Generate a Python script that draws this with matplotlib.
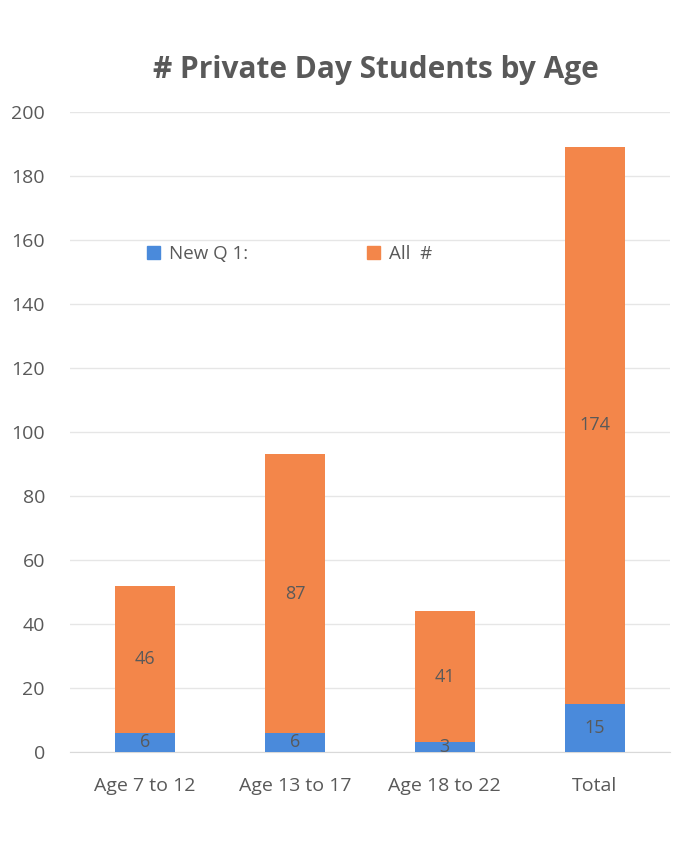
import matplotlib.pyplot as plt
from matplotlib.patches import Patch

categories = ["Age 7 to 12", "Age 13 to 17", "Age 18 to 22", "Total"]
new_q1 = [6, 6, 3, 15]
all_count = [46, 87, 41, 174]
y_ticks = [0, 20, 40, 60, 80, 100, 120, 140, 160, 180, 200]

plt.rcParams["font.family"] = ["Open Sans", "DejaVu Sans"]
txt = "#595959"
blue = "#4A8ADB"
orange = "#F3864A"

fig = plt.figure(figsize=(6.92, 8.46), dpi=100)
ax = fig.add_axes([0.101, 0.111, 0.867, 0.757])

x = range(len(categories))
b1 = ax.bar(x, new_q1, width=0.4, color=blue, zorder=3)
b2 = ax.bar(x, all_count, width=0.4, bottom=new_q1, color=orange, zorder=3)
ax.bar_label(b1, labels=[str(v) for v in new_q1], label_type="center", color=txt, fontsize=13)
ax.bar_label(b2, labels=[str(v) for v in all_count], label_type="center", color=txt, fontsize=13)

ax.set_xlim(-0.5, 3.5)
ax.set_ylim(0, 200)
ax.set_yticks(y_ticks)
ax.set_xticks(list(x))
ax.set_xticklabels(categories)
ax.tick_params(axis="both", length=0, colors=txt, labelsize=14)
ax.tick_params(axis="y", pad=18)
ax.tick_params(axis="x", pad=18)
ax.grid(axis="y", color="#e6e6e6", linewidth=1, zorder=0)
for s in ["top", "right", "left"]:
    ax.spines[s].set_visible(False)
ax.spines["bottom"].set_color("#d9d9d9")

fig.text(0.543, 0.917, "# Private Day Students by Age", ha="center", va="center",
         fontsize=21.5, fontweight="bold", color=txt)

handles = [Patch(color=blue), Patch(color=orange)]
ax.legend(handles, ["New Q 1:", "All  #"], ncol=2, frameon=False,
          loc="center left", bbox_to_anchor=(0.1, 0.777), handlelength=0.7,
          handleheight=0.7, handletextpad=0.5, columnspacing=6.3,
          fontsize=13.5, labelcolor=txt)

fig.savefig("out.png", dpi=100)
